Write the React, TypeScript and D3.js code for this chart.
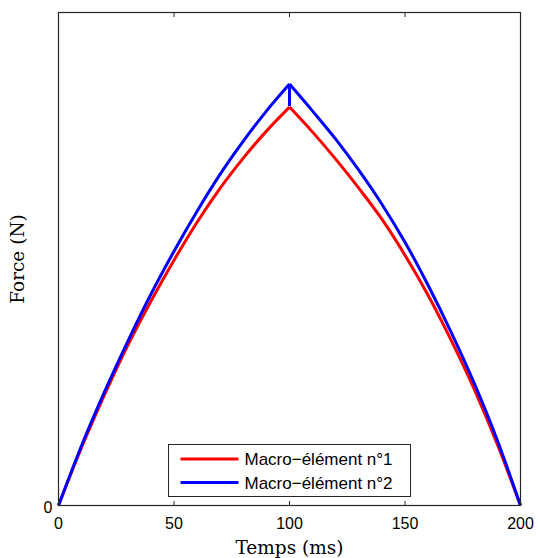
import React from "react";
import * as d3 from "d3";

const timesUp = [0, 10, 20, 30, 40, 50, 60, 70, 80, 90, 100];
const timesDown = [100, 110, 120, 130, 140, 150, 160, 170, 180, 190, 200];

const red1Up = [0, 58, 111, 160, 204, 245, 283, 317, 347, 374, 398];
const red1Down = [398, 373, 346, 317, 286, 250, 210, 165, 116, 61, 0];

const blue2Up = [0, 60, 114, 164, 211, 254, 294, 331, 364, 394, 421];
const blue2Down = [421, 394, 366, 335, 301, 263, 220, 173, 122, 65, 0];
// at t = 100 the blue curve has a short vertical drop down to this value
const blue2Drop = 399;

const xTicks = [0, 50, 100, 150, 200];
const yTicks = [0];
const legendLabels = ["Macro\u2212élément n°1", "Macro\u2212élément n°2"];
const colors = ["#ff0000", "#0000ff"];

const W = 538, H = 558;
const left = 58.5, right = 520.5, top = 12.5, bottom = 505.5;

export default function App() {
  const x = d3.scaleLinear().domain([0, 200]).range([left, right]);
  const y = d3.scaleLinear().domain([0, 492]).range([bottom, top + 0.5]);
  const line = d3
    .line<[number, number]>()
    .x((d) => x(d[0]))
    .y((d) => y(d[1]))
    .curve(d3.curveMonotoneX);
  const straight = d3
    .line<[number, number]>()
    .x((d) => x(d[0]))
    .y((d) => y(d[1]));

  const zip = (ts: number[], vs: number[]) => ts.map((t, i) => [t, vs[i]] as [number, number]);

  const redUp = zip(timesUp, red1Up);
  const redDown = zip(timesDown, red1Down);
  const blueUp = zip(timesUp, blue2Up);
  const blueDown = zip(timesDown, blue2Down);
  const blueSpur: [number, number][] = [
    [100, blue2Up[blue2Up.length - 1]],
    [100, blue2Drop],
  ];

  const axisColor = "#262626";
  const lx0 = 168.5, ly0 = 444.5, lw = 242, lh = 52;
  const sans = "Liberation Sans, Arial, sans-serif";

  return (
    <svg
      width={W}
      height={H}
      style={{ position: "absolute", left: 0, top: 0, display: "block", background: "#fff" }}
    >
      {[redUp, redDown].map((d, i) => (
        <path key={"r" + i} d={line(d) || ""} fill="none" stroke={colors[0]} strokeWidth={3} />
      ))}
      {[blueUp, blueDown].map((d, i) => (
        <path key={"b" + i} d={line(d) || ""} fill="none" stroke={colors[1]} strokeWidth={3} />
      ))}
      <path d={straight(blueSpur) || ""} fill="none" stroke={colors[1]} strokeWidth={3} />

      <rect x={left} y={top} width={right - left} height={bottom - top} fill="none" stroke={axisColor} strokeWidth={1.2} />
      {xTicks.map((t) => (
        <g key={t}>
          <line x1={x(t)} x2={x(t)} y1={bottom} y2={bottom - 4.5} stroke={axisColor} />
          <line x1={x(t)} x2={x(t)} y1={top} y2={top + 4.5} stroke={axisColor} />
          <text x={x(t)} y={bottom + 23.5} textAnchor="middle" fontFamily={sans} fontSize={16} fill="#000">
            {t}
          </text>
        </g>
      ))}
      {yTicks.map((v) => (
        <text key={v} x={left - 6} y={y(v) + 7} textAnchor="end" fontFamily={sans} fontSize={16} fill="#000">
          {v}
        </text>
      ))}

      <text
        x={(left + right) / 2}
        y={554}
        textAnchor="middle"
        fontFamily="DejaVu Serif, serif"
        fontSize={18.5}
        fill="#000"
      >
        Temps (ms)
      </text>
      <text
        transform={`translate(24, ${(top + bottom) / 2}) rotate(-90)`}
        textAnchor="middle"
        fontFamily="DejaVu Serif, serif"
        fontSize={18.5}
        fill="#000"
      >
        Force (N)
      </text>

      <rect x={lx0} y={ly0} width={lw} height={lh} fill="#fff" stroke={axisColor} strokeWidth={1} />
      {legendLabels.map((lab, i) => {
        const yy = ly0 + 14.5 + i * 23.5;
        return (
          <g key={lab}>
            <line x1={lx0 + 12} x2={lx0 + 70} y1={yy} y2={yy} stroke={colors[i]} strokeWidth={3} />
            <text x={lx0 + 76} y={yy + 6} fontFamily={sans} fontSize={17} fill="#000">
              {lab}
            </text>
          </g>
        );
      })}
    </svg>
  );
}
